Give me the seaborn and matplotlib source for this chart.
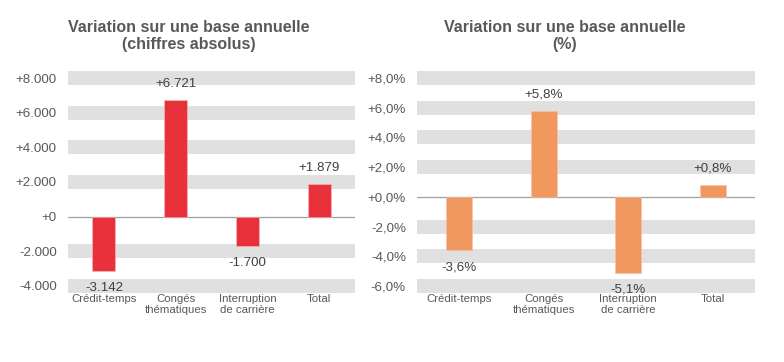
import matplotlib
matplotlib.use("Agg")
import matplotlib.pyplot as plt
import seaborn as sns

sns.set_theme(style="white")
plt.rcParams['font.family'] = ['Liberation Sans', 'DejaVu Sans']

# Data
categories = ["Crédit-temps", "Congés\nthématiques", "Interruption\nde carrière", "Total"]
abs_values = [-3142, 6721, -1700, 1879]
pct_values = [-3.6, 5.8, -5.1, 0.8]
abs_ticks = [-4000, -2000, 0, 2000, 4000, 6000, 8000]
pct_ticks = [-6, -4, -2, 0, 2, 4, 6, 8]

red = "#e8313a"
orange = "#f0985e"
band = "#e0e0e0"
grey_txt = "#595959"
dark_txt = "#404040"

fig = plt.figure(figsize=(7.84, 3.62), dpi=100)
ax1 = fig.add_axes([68/784, 69/362, 287/784, 222/362])
ax2 = fig.add_axes([417/784, 69/362, 338/784, 222/362])


def fmt_abs(v):
    return f"{v:+,.0f}".replace(",", ".")


def fmt_pct(v):
    return f"{v:+.1f}%".replace(".", ",")


def draw_panel(ax, vals, ticks, color, width, ylim, fmt):
    for t in ticks:
        if t == 0:
            ax.axhline(0, color="#a0a0a0", lw=0.9, zorder=1)
        else:
            ax.axhline(t, color=band, lw=10, solid_capstyle="butt", zorder=0)
    sns.barplot(x=categories, y=vals, color=color, width=width, ax=ax,
                saturation=1, zorder=2, edgecolor="#f6c0b0", linewidth=0.4)
    ax.set_ylim(*ylim)
    ax.set_xlim(-0.5, len(categories) - 0.5)
    ax.set_yticks(ticks)
    ax.set_yticklabels([fmt(t) for t in ticks])
    for i, v in enumerate(vals):
        off = 11.5 if v >= 0 else -12
        ax.annotate(fmt(v), (i, v), xytext=(0, off), textcoords="offset points",
                    ha="center", va="center", fontsize=9.6, color=dark_txt, zorder=3)
    for s in ax.spines.values():
        s.set_visible(False)
    ax.tick_params(axis="y", length=0, pad=8, labelsize=9.6, labelcolor=grey_txt)
    ax.tick_params(axis="x", length=0, pad=1, labelsize=8.2, labelcolor=grey_txt)
    for lab in ax.get_xticklabels():
        lab.set_linespacing(1.05)
    ax.set_xlabel("")
    ax.set_ylabel("")


draw_panel(ax1, abs_values, abs_ticks, red, 0.32, (-4406, 8406), fmt_abs)
draw_panel(ax2, pct_values, pct_ticks, orange, 0.31, (-6.47, 8.47), fmt_pct)

fig.text(189/784, 1 - 36/362, "Variation sur une base annuelle\n(chiffres absolus)",
         ha="center", va="center", fontsize=11.5, fontweight="bold",
         color=grey_txt, linespacing=1.1)
fig.text(565/784, 1 - 36/362, "Variation sur une base annuelle\n(%)",
         ha="center", va="center", fontsize=11.5, fontweight="bold",
         color=grey_txt, linespacing=1.1)

fig.savefig("out.png", dpi=100)
